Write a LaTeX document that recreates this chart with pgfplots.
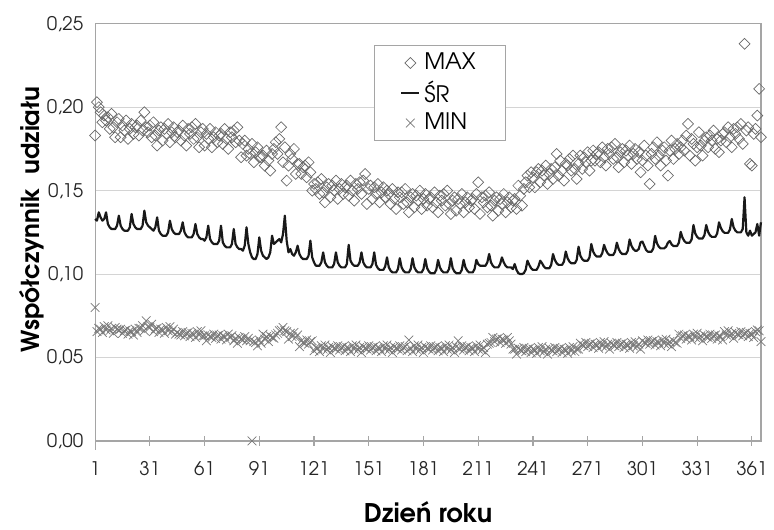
\documentclass[border=0pt]{standalone}
\usepackage{fontspec}
\setmainfont{TeX Gyre Adventor}
\usepackage{pgfplots}
\usepackage{pgfplotstable}
\pgfplotsset{compat=1.18}
\definecolor{spine}{RGB}{165,165,165}
\definecolor{gridc}{RGB}{212,212,212}
\definecolor{maxc}{RGB}{105,105,105}
\definecolor{minc}{RGB}{120,120,120}

% dzien, MAX, SR, MIN
\pgfplotstableread{
d max sr min
1 .183 .133 .080
2 .203 .132 .0655
3 .200 .137 .0675
4 .197 .134 .067
5 .191 .132 .065
6 .195 .133 .0685
7 .192 .137 .0665
8 .194 .130 .069
9 .187 .128 .066
10 .196 .127 .0675
11 .188 .127 .0645
12 .182 .127 .068
13 .191 .129 .067
14 .193 .135 .0665
15 .182 .129 .067
16 .189 .127 .0645
17 .186 .126 .066
18 .192 .126 .0665
19 .181 .126 .064
20 .187 .128 .066
21 .190 .136 .0655
22 .184 .130 .0635
23 .188 .128 .067
24 .189 .127 .065
25 .183 .127 .0675
26 .192 .127 .0675
27 .186 .129 .069
28 .197 .138 .066
29 .188 .131 .072
30 .185 .129 .0685
31 .189 .128 .068
32 .182 .127 .070
33 .191 .126 .0655
34 .183 .128 .067
35 .177 .134 .0675
36 .186 .126 .065
37 .188 .124 .067
38 .180 .123 .0665
39 .187 .123 .0645
40 .184 .123 .068
41 .190 .125 .066
42 .179 .132 .0685
43 .185 .127 .0655
44 .188 .125 .067
45 .182 .124 .064
46 .185 .124 .065
47 .186 .124 .064
48 .180 .126 .0635
49 .189 .131 .0655
50 .183 .125 .063
51 .177 .123 .0645
52 .187 .122 .065
53 .184 .122 .0625
54 .188 .122 .0645
55 .181 .124 .064
56 .190 .130 .062
57 .182 .124 .0655
58 .176 .122 .0635
59 .185 .121 .066
60 .187 .121 .063
61 .177 .120 .063
62 .184 .122 .060
63 .181 .129 .0635
64 .187 .121 .0625
65 .176 .119 .062
66 .182 .118 .064
67 .185 .118 .0615
68 .179 .118 .063
69 .183 .120 .0635
70 .184 .129 .061
71 .178 .119 .063
72 .187 .117 .0625
73 .181 .116 .0605
74 .175 .116 .064
75 .185 .116 .062
76 .182 .118 .063
77 .186 .127 .060
78 .179 .118 .0615
79 .188 .116 .0585
80 .180 .115 .062
81 .170 .115 .061
82 .178 .114 .0605
83 .180 .117 .0625
84 .171 .128 .060
85 .175 .118 .0615
86 .172 .113 .060
87 .178 .110 .000
88 .167 .109 .0595
89 .173 .109 .059
90 .176 .112 .057
91 .170 .122 .0605
92 .170 .114 .0585
93 .171 .111 .064
94 .165 .110 .061
95 .174 .109 .0625
96 .168 .110 .0595
97 .162 .113 .063
98 .172 .123 .062
99 .175 .118 .0615
100 .179 .119 .0635
101 .172 .120 .0645
102 .181 .121 .066
103 .188 .119 .0665
104 .167 .124 .068
105 .176 .135 .066
106 .156 .120 .0655
107 .165 .113 .061
108 .172 .115 .0645
109 .169 .112 .0625
110 .175 .111 .065
111 .160 .113 .062
112 .166 .117 .0635
113 .166 .112 .0565
114 .160 .110 .060
115 .164 .109 .059
116 .165 .109 .0585
117 .158 .109 .0605
118 .167 .111 .058
119 .161 .120 .0595
120 .150 .110 .060
121 .154 .107 .054
122 .151 .105 .056
123 .155 .105 .0555
124 .148 .105 .0535
125 .157 .107 .057
126 .149 .113 .055
127 .143 .107 .0575
128 .152 .105 .0545
129 .154 .104 .056
130 .146 .104 .053
131 .153 .104 .0565
132 .150 .106 .0555
133 .156 .113 .055
134 .145 .107 .057
135 .151 .105 .0545
136 .154 .104 .056
137 .148 .104 .0565
138 .152 .104 .054
139 .153 .106 .056
140 .147 .1175 .0555
141 .156 .108 .0535
142 .150 .106 .057
143 .144 .105 .055
144 .154 .105 .0575
145 .151 .105 .0545
146 .155 .107 .056
147 .148 .113 .053
148 .156 .107 .0565
149 .160 .105 .0555
150 .142 .104 .055
151 .151 .104 .057
152 .153 .104 .0545
153 .145 .106 .056
154 .152 .113 .0565
155 .148 .1055 .054
156 .154 .1035 .056
157 .143 .1025 .0555
158 .149 .1025 .0535
159 .152 .1025 .057
160 .146 .1045 .055
161 .150 .110 .0575
162 .148 .104 .0545
163 .142 .102 .056
164 .151 .101 .053
165 .145 .101 .0565
166 .139 .101 .0555
167 .149 .103 .055
168 .146 .1095 .057
169 .149 .104 .0545
170 .142 .102 .056
171 .151 .101 .0565
172 .143 .101 .054
173 .137 .101 .0605
174 .146 .103 .0555
175 .148 .1095 .0535
176 .140 .104 .057
177 .147 .102 .055
178 .144 .101 .0575
179 .150 .101 .0545
180 .139 .101 .056
181 .145 .103 .053
182 .148 .109 .0565
183 .141 .1035 .0555
184 .145 .1015 .055
185 .146 .1005 .057
186 .140 .1005 .0545
187 .149 .1005 .056
188 .143 .1025 .0565
189 .137 .1085 .054
190 .147 .104 .056
191 .144 .102 .0555
192 .148 .101 .0535
193 .141 .101 .057
194 .150 .101 .055
195 .142 .103 .0575
196 .136 .1095 .0545
197 .144 .1035 .056
198 .146 .1015 .053
199 .138 .1005 .0565
200 .145 .1005 .060
201 .142 .1005 .055
202 .148 .1025 .057
203 .137 .1085 .0545
204 .143 .104 .056
205 .146 .102 .0565
206 .140 .101 .054
207 .144 .101 .056
208 .145 .101 .0555
209 .139 .103 .0535
210 .148 .1085 .057
211 .155 .106 .055
212 .136 .105 .0575
213 .146 .105 .0545
214 .143 .105 .056
215 .147 .105 .053
216 .140 .107 .058
217 .149 .112 .0585
218 .141 .107 .059
219 .135 .105 .062
220 .144 .104 .0595
221 .146 .104 .061
222 .138 .104 .0615
223 .145 .106 .059
224 .142 .110 .061
225 .148 .107 .0605
226 .137 .105 .0585
227 .143 .104 .062
228 .146 .104 .060
229 .140 .104 .058
230 .144 .103 .055
231 .145 .106 .055
232 .139 .1025 .052
233 .153 .1005 .0555
234 .147 .100 .0545
235 .141 .100 .054
236 .151 .1005 .056
237 .155 .1025 .0535
238 .159 .108 .055
239 .152 .1055 .0555
240 .161 .1035 .053
241 .158 .1025 .055
242 .152 .1025 .0545
243 .161 .1025 .0525
244 .163 .1045 .056
245 .155 .108 .054
246 .162 .1065 .0565
247 .159 .1045 .0535
248 .165 .1035 .055
249 .154 .1035 .052
250 .160 .1035 .0555
251 .163 .1055 .0545
252 .157 .112 .054
253 .164 .1085 .056
254 .172 .1065 .0535
255 .159 .1055 .055
256 .168 .1055 .0555
257 .162 .1055 .053
258 .156 .1075 .055
259 .166 .1135 .0545
260 .165 .1095 .0525
261 .169 .1075 .056
262 .162 .1065 .054
263 .171 .1065 .0565
264 .163 .1065 .0535
265 .157 .1085 .055
266 .166 .1164 .055
267 .171 .111 .0585
268 .163 .109 .0575
269 .170 .108 .057
270 .167 .108 .059
271 .173 .108 .0565
272 .162 .110 .058
273 .168 .118 .0585
274 .174 .1135 .056
275 .168 .1115 .058
276 .172 .1105 .0575
277 .173 .1105 .0555
278 .167 .1105 .059
279 .176 .1125 .057
280 .170 .1175 .0595
281 .165 .1144 .0565
282 .175 .1124 .058
283 .172 .1114 .055
284 .176 .1114 .0585
285 .169 .1114 .0575
286 .178 .1134 .057
287 .170 .1188 .059
288 .164 .115 .0565
289 .173 .113 .058
290 .175 .112 .0585
291 .167 .112 .056
292 .174 .112 .058
293 .171 .114 .0575
294 .177 .1207 .0555
295 .166 .117 .059
296 .172 .115 .057
297 .175 .114 .0595
298 .169 .114 .0565
299 .173 .115 .058
300 .161 .119 .055
301 .168 .1195 .060
302 .177 .117 .059
303 .171 .1145 .0585
304 .165 .1134 .0605
305 .154 .1134 .058
306 .172 .1134 .0595
307 .176 .1154 .060
308 .169 .1229 .0575
309 .179 .1184 .0595
310 .171 .1164 .059
311 .165 .1154 .057
312 .174 .1154 .0605
313 .176 .1154 .0585
314 .168 .1164 .061
315 .159 .1188 .058
316 .174 .1198 .0595
317 .180 .1178 .0565
318 .169 .1168 .060
319 .175 .1168 .059
320 .178 .1168 .0585
321 .172 .1188 .064
322 .176 .1253 .0615
323 .180 .1218 .063
324 .174 .1198 .0635
325 .183 .1188 .061
326 .190 .1188 .063
327 .171 .1188 .0625
328 .181 .1208 .0605
329 .178 .1294 .064
330 .168 .1243 .062
331 .176 .1223 .0645
332 .185 .1213 .0615
333 .177 .1213 .063
334 .171 .1213 .060
335 .180 .1233 .0635
336 .182 .1294 .0625
337 .176 .1253 .062
338 .183 .1233 .064
339 .180 .1223 .0615
340 .186 .1223 .063
341 .175 .1223 .0635
342 .181 .1243 .061
343 .173 .131 .063
344 .180 .1277 .0625
345 .184 .1257 .0605
346 .185 .1247 .0655
347 .179 .1247 .0635
348 .188 .1247 .066
349 .182 .1267 .063
350 .176 .133 .0645
351 .187 .128 .0615
352 .184 .126 .065
353 .188 .125 .064
354 .181 .125 .0635
355 .190 .125 .0655
356 .178 .127 .063
357 .238 .146 .0645
358 .186 .125 .065
359 .188 .123 .0625
360 .166 .126 .0645
361 .165 .123 .064
362 .184 .124 .062
363 .187 .125 .0655
364 .195 .130 .0665
365 .211 .123 .066
366 .182 .131 .0595
}\udzial

\begin{document}
\begin{tikzpicture}
\begin{axis}[
  scale only axis, width=336bp, height=210.5bp,
  xmin=1, xmax=366, ymin=0, ymax=0.25,
  clip=false,
  xtick={1,31,...,361},
  ytick={0,0.05,0.1,0.15,0.2,0.25},
  tick pos=left, tick align=center, major tick length=5bp,
  axis line style={spine, line width=0.6bp},
  x tick style={spine, line width=0.6bp},
  y tick style={draw=none},
  ymajorgrids, grid style={gridc, line width=0.5bp},
  ticklabel style={font=\fontsize{9.5}{11}\selectfont, text=black!85},
  xticklabel style={/pgf/number format/assume math mode=true, yshift=-4.5bp},
  yticklabel style={/pgf/number format/.cd, fixed, fixed zerofill, precision=2,
    use comma, assume math mode=true},
  xlabel={Dzień roku},
  ylabel={Współczynnik~ udziału},
  xlabel style={font=\bfseries\fontsize{13}{15}\selectfont,
    at={(axis description cs:0.5,-0.17)}, anchor=center},
  ylabel style={font=\bfseries\fontsize{12.5}{14}\selectfont,
    at={(axis description cs:-0.0953,0.53)}, anchor=center},
  legend image code/.code={\draw[mark repeat=2,mark phase=2,#1]
    plot coordinates {(0bp,0bp) (4.5bp,0bp) (9bp,0bp)};},
  legend style={at={(0.518,0.95)}, anchor=north, draw=spine, line width=0.6bp,
    font=\fontsize{11.5}{13}\selectfont, row sep=0pt, inner xsep=13bp, inner ysep=2bp,
    cells={anchor=west}},
]
\addplot[only marks, mark=square, mark size=1.95bp, color=maxc, line width=0.35bp,
  mark options={rotate=45, fill=none}] table[x=d, y=max]{\udzial};
\addlegendentry{MAX}
\addplot[black!90, line width=1.1bp, line join=round, no marks] table[x=d, y=sr]{\udzial};
\addlegendentry{ŚR}
\addplot[only marks, mark=x, mark size=3.1bp, color=minc, line width=0.35bp]
  table[x=d, y=min]{\udzial};
\addlegendentry{MIN}
\end{axis}
\draw[spine, line width=0.6bp] (current axis.south west) -- ++(0,-4.5bp);
\path (current axis.south west) ++(-48bp,-38bp);
\path (current axis.north east) ++(3.5bp,12bp);
\end{tikzpicture}
\end{document}
